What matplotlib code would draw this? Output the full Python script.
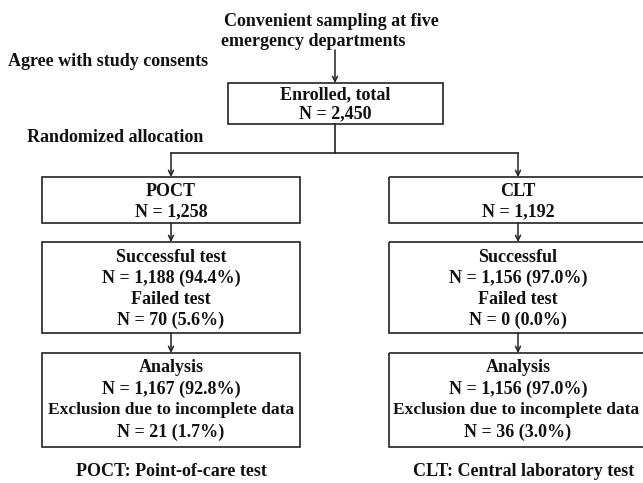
import matplotlib.pyplot as plt
from matplotlib.patches import Rectangle

# Flow numbers
enrolled = 2450
arms = ["POCT", "CLT"]
arm_n = [1258, 1192]
success_label = ["Successful test", "Successful"]
success_n = [1188, 1156]
success_pct = [94.4, 97.0]
failed_n = [70, 0]
failed_pct = [5.6, 0.0]
analysis_n = [1167, 1156]
analysis_pct = [92.8, 97.0]
excluded_n = [21, 36]
excluded_pct = [1.7, 3.0]
footnotes = ["POCT: Point-of-care test", "CLT: Central laboratory test"]

plt.rcParams['font.family'] = ['Liberation Serif', 'DejaVu Serif']
FS = 13

fig = plt.figure(figsize=(6.43, 4.83), dpi=100)
ax = fig.add_axes([0, 0, 1, 1])
ax.set_xlim(0, 643)
ax.set_ylim(483, 0)
ax.axis('off')


def txt(x, y, s, ha='center', fs=FS):
    ax.text(x, y, s, ha=ha, va='center', fontsize=fs, fontweight='bold',
            color='#111111')


def box(x0, x1, y0, y1):
    ax.add_patch(Rectangle((x0, y0), x1 - x0, y1 - y0, fill=False,
                           lw=1.2, ec='#222222', clip_on=False))


def arrow(x, y0, y1):
    ax.annotate('', xy=(x, y1), xytext=(x, y0),
                arrowprops=dict(arrowstyle='->', lw=1.1, color='#222222',
                                shrinkA=0, shrinkB=0, mutation_scale=9))


def fmt(n):
    return f"{n:,}"


# top
txt(224, 21, "Convenient sampling at five", ha='left')
txt(221, 41, "emergency departments", ha='left')
arrow(335, 50, 83)
txt(8, 62, "Agree with study consents", ha='left')

box(228, 443, 83, 124)
txt(335, 95, "Enrolled, total")
txt(335, 114, f"N = {fmt(enrolled)}")

txt(27, 138, "Randomized allocation", ha='left')

cx = [171, 518]
ax.plot([335, 335], [124, 153], color='#222222', lw=1.2)
ax.plot([cx[0], cx[1]], [153, 153], color='#222222', lw=1.2)

half = 129
for i, x in enumerate(cx):
    arrow(x, 153, 177)
    box(x - half, x + half, 177, 223)
    txt(x, 191, arms[i])
    txt(x, 212, f"N = {fmt(arm_n[i])}")

    arrow(x, 223, 242)
    box(x - half, x + half, 242, 333)
    txt(x, 257, success_label[i])
    txt(x, 278, f"N = {fmt(success_n[i])} ({success_pct[i]:.1f}%)")
    txt(x, 299, "Failed test")
    txt(x, 320, f"N = {fmt(failed_n[i])} ({failed_pct[i]:.1f}%)")

    arrow(x, 333, 353)
    box(x - half, x + half, 353, 447)
    txt(x, 368, "Analysis")
    txt(x, 389, f"N = {fmt(analysis_n[i])} ({analysis_pct[i]:.1f}%)")
    txt(x - 2 * i, 410, "Exclusion due to incomplete data", fs=12.5)
    txt(x, 432, f"N = {fmt(excluded_n[i])} ({excluded_pct[i]:.1f}%)")

txt(171, 472, footnotes[0])
txt(524, 472, footnotes[1])

fig.savefig("out.png", dpi=100)
